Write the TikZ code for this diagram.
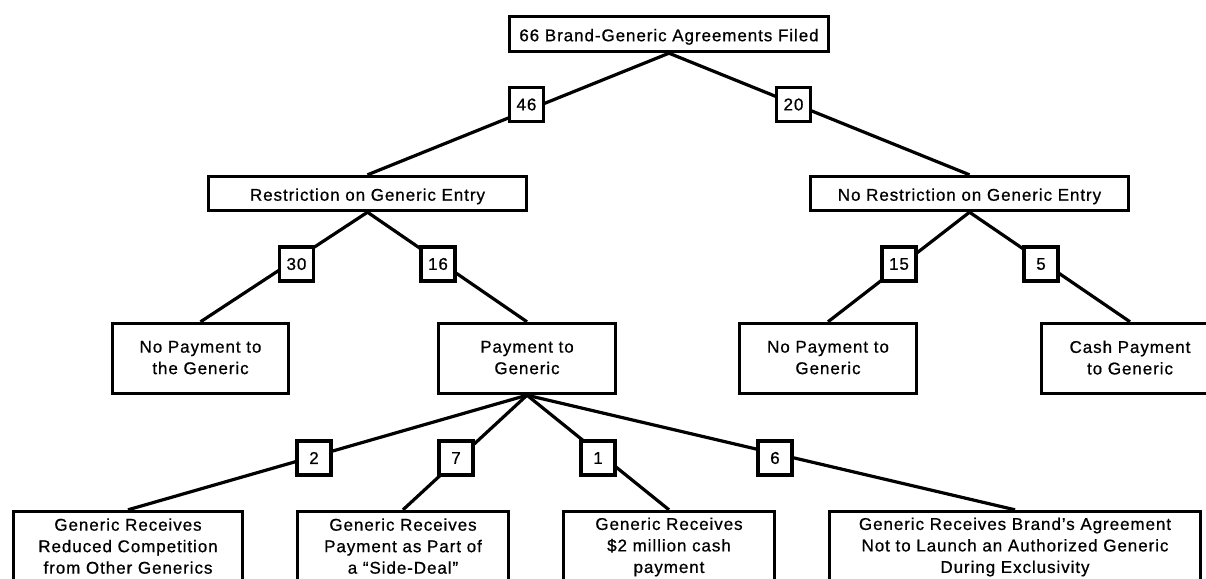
\documentclass[tikz,border=0pt]{standalone}
\usepackage{fontspec}
\setmainfont{Liberation Sans}[LetterSpace=5.5, FakeBold=0.7]
\usepackage{tikz}
\newcommand{\branchstrut}{\rule[-2pt]{0pt}{20pt}}

\begin{document}
\begin{tikzpicture}[
  x=1pt, y=-1pt,
  branch/.style={
    draw=black, line width=3.4pt,
    fill=white,
    align=center, inner sep=2pt,
    execute at begin node=\branchstrut, execute at end node=\branchstrut,
    font=\fontsize{17}{21.5}\selectfont
  },
  tally/.style={
    draw=black, line width=3.4pt,
    fill=white,
    minimum width=34pt, minimum height=34pt, inner sep=0pt,
    font=\fontsize{17}{21.5}\selectfont
  },
  link/.style={draw=black, line width=3.2pt}
]
\useasboundingbox (0,0) rectangle (1206,578);
\fill[white] (0,0) rectangle (1206,578);
\clip (0,0) rectangle (1206,578);

% top of the tree
\node[branch, minimum width=319pt, minimum height=35pt] (filed) at (669,34)
  {66 Brand-Generic Agreements Filed};

% restriction split
\node[branch, minimum width=318pt, minimum height=34pt] (restr) at (367.5,193.5)
  {Restriction on Generic Entry};
\node[branch, minimum width=318pt, minimum height=34pt] (norestr) at (969.5,193.5)
  {No Restriction on Generic Entry};

% payment split
\node[branch, minimum width=176pt, minimum height=70pt] (nopayR) at (200.5,358.5)
  {No Payment to\\the Generic};
\node[branch, minimum width=177pt, minimum height=70pt] (payR) at (527,358.5)
  {Payment to\\Generic};
\node[branch, minimum width=177pt, minimum height=70pt] (nopayN) at (828,358.5)
  {No Payment to\\Generic};
\node[branch, minimum width=177pt, minimum height=70pt] (cashN) at (1130,358.5)
  {Cash Payment\\to Generic};

% kinds of payment
\node[branch, minimum width=229pt, minimum height=71pt] (reduced) at (128,547)
  {Generic Receives\\Reduced Competition\\from Other Generics};
\node[branch, minimum width=211pt, minimum height=71pt] (sidedeal) at (403,547)
  {Generic Receives\\Payment as Part of\\a ``Side-Deal''};
\node[branch, minimum width=211pt, minimum height=71pt] (million) at (669,547)
  {Generic Receives\\\$2 million cash\\payment};
\node[branch, minimum width=371pt, minimum height=71pt] (noag) at (1015,547)
  {Generic Receives Brand’s Agreement\\Not to Launch an Authorized Generic\\During Exclusivity};

% connectors
\foreach \from/\to in {filed/restr, filed/norestr,
                       restr/nopayR, restr/payR,
                       norestr/nopayN, norestr/cashN,
                       payR/reduced, payR/sidedeal, payR/million, payR/noag}
  \draw[link] (\from.south) -- (\to.north);

% counts on the connectors
\node[tally] (c46) at (526.5,104.5) {46};
\node[tally] (c20) at (793.5,104.5) {20};
\node[tally] (c30) at (296.5,264) {30};
\node[tally] (c16) at (438,264) {16};
\node[tally] (c15) at (899,264) {15};
\node[tally] (c5) at (1041,264) {5};
\node[tally] (c2) at (314,458) {2};
\node[tally] (c7) at (456,458) {7};
\node[tally] (c1) at (598,458) {1};
\node[tally] (c6) at (775,458) {6};
\end{tikzpicture}
\end{document}
